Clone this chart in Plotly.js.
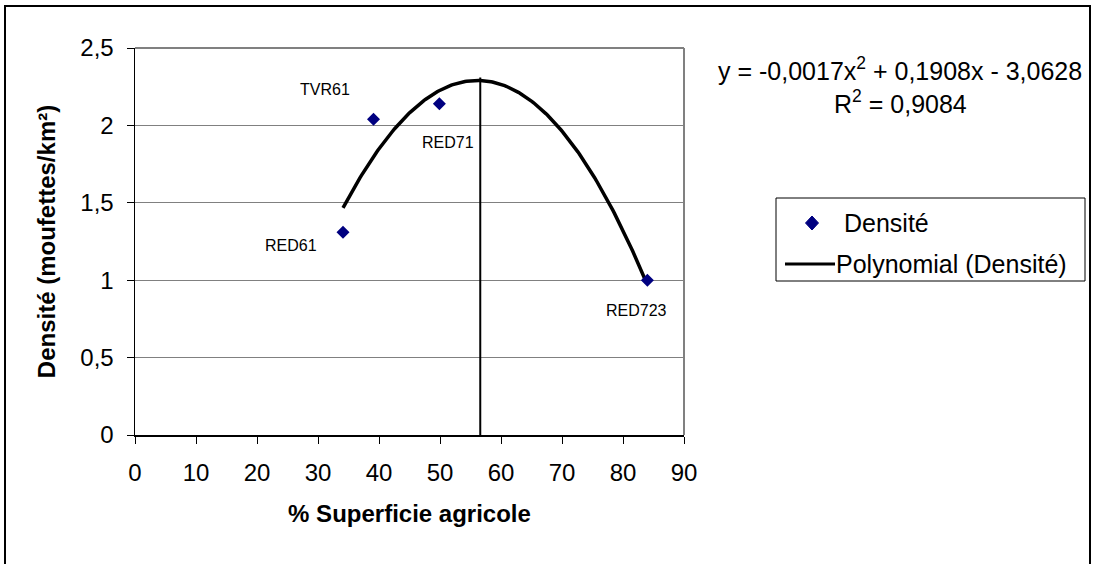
<!DOCTYPE html>
<html>
<head>
<meta charset="utf-8">
<script src="https://cdn.plot.ly/plotly-3.0.1.min.js"></script>
<style>
  html, body { margin: 0; padding: 0; background: #fff; }
  #wrap { position: relative; width: 1096px; height: 564px; overflow: hidden; }
  #chart { width: 1096px; height: 564px; }
  #frame { position: absolute; left: 4px; top: 5px; width: 1087px; height: 600px;
           border: 2px solid #000; pointer-events: none; box-sizing: border-box; }
</style>
</head>
<body>
<div id="wrap"><div id="chart"></div><div id="frame"></div></div>
<script>
// ---- data ----
const pointX = [34.1, 39.1, 49.9, 84.0];
const pointY = [1.31, 2.04, 2.14, 1.0];
const pointLabels = ['RED61', 'TVR61', 'RED71', 'RED723'];
const trendCoef = [-0.0017, 0.1908, -3.0628];   // displayed trendline: a x² + b x + c
const trendR2 = 0.9084;
const maxLineX = [56.6, 56.6];
const maxLineY = [0, 2.31];
const xTickVals = [0, 10, 20, 30, 40, 50, 60, 70, 80, 90];
const yTickVals = [0, 0.5, 1, 1.5, 2, 2.5];
const yTickText = ['0', '0,5', '1', '1,5', '2', '2,5'];
const seriesName = 'Densité';
const trendName = 'Polynomial (Densité)';
const xTitle = '% Superficie agricole';
const yTitle = 'Densité (moufettes/km²)';

// ---- trendline curve from displayed equation ----
const fmt = v => String(v).replace('.', ',');
const xMin = Math.min(...pointX), xMax = Math.max(...pointX);
const trendX = [], trendY = [];
for (let x = xMin; x <= xMax + 1e-9; x += 0.25) {
  trendX.push(x);
  trendY.push(trendCoef[0] * x * x + trendCoef[1] * x + trendCoef[2]);
}
const eqText = 'y = ' + fmt(trendCoef[0]) + 'x<sup>2</sup> + ' + fmt(trendCoef[1]) +
               'x - ' + fmt(Math.abs(trendCoef[2]));
const r2Text = 'R<sup>2</sup> = ' + fmt(trendR2);

// ---- pixel helpers for paper coords (plot area 135..684 x 48..435) ----
const L = 135, R = 684, T = 48, B = 435;
const px = p => (p - L) / (R - L);
const py = p => (B - p) / (B - T);

const FONT = 'Liberation Sans, Arial, sans-serif';
const labelOffsets = [[-52, -13], [-49, 30], [9, -39], [-11, -30]];

const traces = [
  { x: trendX, y: trendY, mode: 'lines', name: trendName, showlegend: false,
    line: { color: '#000', width: 3.5 }, hoverinfo: 'skip' },
  { x: maxLineX, y: maxLineY, mode: 'lines', showlegend: false,
    line: { color: '#000', width: 2 }, hoverinfo: 'skip' },
  { x: pointX, y: pointY, mode: 'markers', name: seriesName, showlegend: false,
    marker: { symbol: 'diamond', size: 10, color: '#000080' } }
];

const annotations = pointLabels.map((t, i) => ({
  x: pointX[i], y: pointY[i], xref: 'x', yref: 'y', text: t, showarrow: false,
  xshift: labelOffsets[i][0], yshift: labelOffsets[i][1],
  font: { family: FONT, size: 16, color: '#000' }
}));
annotations.push(
  { xref: 'paper', yref: 'paper', x: px(900), y: py(69), text: eqText, showarrow: false,
    xanchor: 'center', yanchor: 'middle', font: { family: FONT, size: 25, color: '#000' } },
  { xref: 'paper', yref: 'paper', x: px(900), y: py(102), text: r2Text, showarrow: false,
    xanchor: 'center', yanchor: 'middle', font: { family: FONT, size: 25, color: '#000' } },
  { xref: 'paper', yref: 'paper', x: px(842), y: py(223), text: seriesName, showarrow: false,
    xanchor: 'left', yanchor: 'middle', font: { family: FONT, size: 25, color: '#000' } },
  { xref: 'paper', yref: 'paper', x: px(834), y: py(264), text: trendName, showarrow: false,
    xanchor: 'left', yanchor: 'middle', font: { family: FONT, size: 25, color: '#000' } }
);

const dcx = px(812), dcy = py(223), dhw = 6.5 / (R - L), dhh = 7 / (B - T);
const shapes = [
  { type: 'line', xref: 'paper', yref: 'paper', x0: 0, x1: 1, y0: 1, y1: 1,
    line: { color: '#808080', width: 2 } },
  { type: 'line', xref: 'paper', yref: 'paper', x0: 1, x1: 1, y0: 0, y1: 1,
    line: { color: '#808080', width: 2 } },
  { type: 'rect', xref: 'paper', yref: 'paper', x0: px(776), x1: px(1085), y0: py(281), y1: py(198),
    line: { color: '#000', width: 1 }, fillcolor: 'rgba(0,0,0,0)' },
  { type: 'path', xref: 'paper', yref: 'paper',
    path: `M ${dcx} ${dcy + dhh} L ${dcx + dhw} ${dcy} L ${dcx} ${dcy - dhh} L ${dcx - dhw} ${dcy} Z`,
    fillcolor: '#000080', line: { color: '#000080', width: 1 } },
  { type: 'line', xref: 'paper', yref: 'paper', x0: px(785), x1: px(835), y0: py(264), y1: py(264),
    line: { color: '#000', width: 3 } }
];

const layout = {
  width: 1096, height: 564,
  margin: { l: L, r: 1096 - R, t: T, b: 564 - B, pad: 0 },
  paper_bgcolor: '#fff', plot_bgcolor: '#fff',
  separators: ', ',
  showlegend: false,
  font: { family: FONT, color: '#000' },
  xaxis: {
    range: [0, 90], tickvals: xTickVals, ticks: 'outside', ticklen: 7, tickwidth: 1,
    tickcolor: '#000', showline: true, linecolor: '#000', linewidth: 2,
    showgrid: false, zeroline: false, ticklabelstandoff: 8,
    tickfont: { family: FONT, size: 24, color: '#000' },
    title: { text: xTitle, standoff: 20, font: { family: FONT, size: 24, color: '#000', weight: 'bold' } },
    automargin: false, fixedrange: true
  },
  yaxis: {
    range: [0, 2.5], tickvals: yTickVals, ticktext: yTickText, ticks: 'outside', ticklen: 7,
    tickwidth: 1, tickcolor: '#000', showline: true, linecolor: '#000', linewidth: 1.5,
    showgrid: true, gridcolor: '#808080', gridwidth: 1, zeroline: false, ticklabelstandoff: 8,
    tickfont: { family: FONT, size: 24, color: '#000' },
    title: { text: yTitle, standoff: 18, font: { family: FONT, size: 24, color: '#000', weight: 'bold' } },
    automargin: false, fixedrange: true
  },
  annotations: annotations,
  shapes: shapes
};

Plotly.newPlot('chart', traces, layout, { staticPlot: true, displayModeBar: false });
</script>
</body>
</html>
